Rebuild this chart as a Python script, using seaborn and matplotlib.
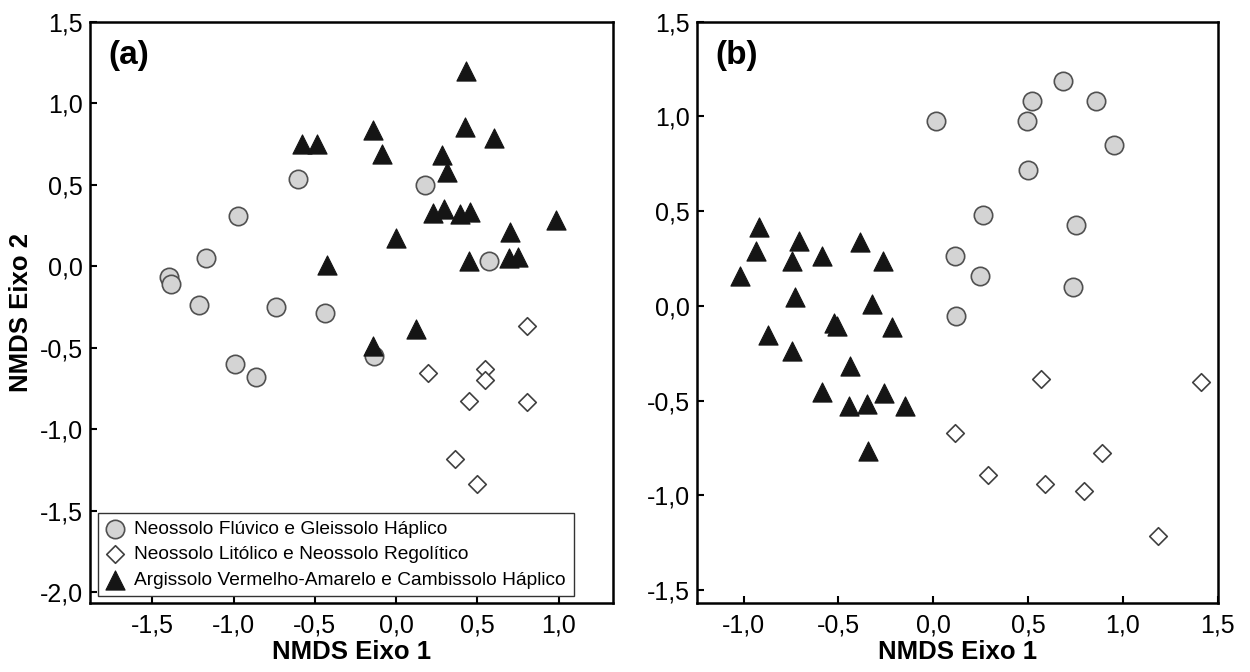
import matplotlib
matplotlib.use("Agg")
import matplotlib.pyplot as plt
import pandas as pd
import seaborn as sns

# ---------------- data ----------------
groups = ["Neossolo Flúvico e Gleissolo Háplico",
          "Neossolo Litólico e Neossolo Regolítico",
          "Argissolo Vermelho-Amarelo e Cambissolo Háplico"]

# panel (a)
a_circ_x = [-0.602, -0.972, -1.169, -1.396, -1.384, -1.214, -0.738, -0.436, -0.993, -0.862, -0.135, 0.178, 0.569]
a_circ_y = [0.534, 0.309, 0.047, -0.069, -0.110, -0.240, -0.250, -0.285, -0.602, -0.680, -0.551, 0.497, 0.033]
a_diam_x = [0.806, 0.197, 0.550, 0.550, 0.451, 0.806, 0.363, 0.498]
a_diam_y = [-0.367, -0.653, -0.633, -0.700, -0.827, -0.833, -1.184, -1.337]
a_tri_x = [-0.579, -0.487, -0.426, 0.125, -0.139, 0.430, -0.139, 0.424, 0.604, -0.088, 0.281,
           0.311, 0.229, 0.297, 0.393, 0.455, 0.987, 0.000, 0.700, 0.450, 0.694, 0.751]
a_tri_y = [0.752, 0.748, 0.006, -0.388, -0.490, 1.198, 0.838, 0.851, 0.783, 0.687, 0.681,
           0.579, 0.323, 0.348, 0.319, 0.333, 0.282, 0.170, 0.207, 0.033, 0.047, 0.057]

# panel (b)
b_circ_x = [0.012, 0.682, 0.519, 0.857, 0.496, 0.953, 0.501, 0.260, 0.753, 0.114, 0.245, 0.738, 0.120]
b_circ_y = [0.975, 1.189, 1.081, 1.081, 0.975, 0.847, 0.718, 0.481, 0.428, 0.261, 0.158, 0.098, -0.052]
b_diam_x = [0.116, 0.566, 1.414, 0.288, 0.588, 0.795, 0.889, 1.185]
b_diam_y = [-0.671, -0.385, -0.402, -0.891, -0.941, -0.979, -0.776, -1.214]
b_tri_x = [-0.918, -0.935, -1.020, -0.707, -0.747, -0.589, -0.387, -0.264, -0.730, -0.322, -0.869,
           -0.521, -0.508, -0.220, -0.747, -0.438, -0.586, -0.444, -0.349, -0.259, -0.148, -0.342]
b_tri_y = [0.414, 0.291, 0.160, 0.344, 0.238, 0.265, 0.335, 0.238, 0.046, 0.010, -0.155,
           -0.088, -0.106, -0.111, -0.238, -0.318, -0.455, -0.526, -0.517, -0.459, -0.526, -0.764]

a_xticks = [-1.5, -1.0, -0.5, 0.0, 0.5, 1.0]
a_yticks = [1.5, 1.0, 0.5, 0.0, -0.5, -1.0, -1.5, -2.0]
b_xticks = [-1.0, -0.5, 0.0, 0.5, 1.0, 1.5]
b_yticks = [1.5, 1.0, 0.5, 0.0, -0.5, -1.0, -1.5]


def frame(cx, cy, dx, dy, tx, ty):
    return pd.concat([
        pd.DataFrame({"x": cx, "y": cy, "grupo": groups[0]}),
        pd.DataFrame({"x": dx, "y": dy, "grupo": groups[1]}),
        pd.DataFrame({"x": tx, "y": ty, "grupo": groups[2]}),
    ], ignore_index=True)


df_a = frame(a_circ_x, a_circ_y, a_diam_x, a_diam_y, a_tri_x, a_tri_y)
df_b = frame(b_circ_x, b_circ_y, b_diam_x, b_diam_y, b_tri_x, b_tri_y)

styles = {
    groups[0]: dict(marker="o", s=175, color="#d4d4d4", edgecolor="#505050", linewidth=1.2),
    groups[1]: dict(marker="D", s=80, color="white", edgecolor="#404040", linewidth=1.2),
    groups[2]: dict(marker="^", s=190, color="#151515", edgecolor="#151515", linewidth=0.8),
}

sns.set_style("ticks")
plt.rcParams["font.family"] = ["Liberation Sans", "DejaVu Sans"]
plt.rcParams["text.color"] = "black"
plt.rcParams["axes.labelcolor"] = "black"
plt.rcParams["xtick.color"] = "black"
plt.rcParams["ytick.color"] = "black"

fig = plt.figure(figsize=(12.5, 6.72), dpi=100)
ax_a = fig.add_axes([0.072, 0.102, 0.4184, 0.8658])
ax_b = fig.add_axes([0.5576, 0.102, 0.4168, 0.8658])


def fmt(v):
    return f"{v:.1f}".replace(".", ",")


def draw(ax, df, xlim, ylim, xt, yt, tag):
    for g in groups:
        sub = df[df["grupo"] == g]
        sns.scatterplot(data=sub, x="x", y="y", ax=ax, label=g, legend=False, **styles[g])
    ax.set_xlim(*xlim)
    ax.set_ylim(*ylim)
    ax.set_xticks(xt)
    ax.set_xticklabels([fmt(v) for v in xt])
    ax.set_yticks(yt)
    ax.set_yticklabels([fmt(v) for v in yt])
    ax.tick_params(direction="in", length=5, width=1.5, labelsize=18, colors="black")
    ax.tick_params(axis="x", pad=7)
    ax.tick_params(axis="y", pad=5)
    for sp in ax.spines.values():
        sp.set_linewidth(1.8)
        sp.set_color("black")
        sp.set_visible(True)
    ax.set_xlabel("NMDS Eixo 1", fontsize=18.5, fontweight="bold", labelpad=2, color="black")
    ax.set_ylabel("")
    ax.text(0.036, 0.942, tag, transform=ax.transAxes, fontsize=24,
            fontweight="bold", ha="left", va="center", color="black")


draw(ax_a, df_a, (-1.883, 1.335), (-2.07, 1.5), a_xticks, a_yticks, "(a)")
draw(ax_b, df_b, (-1.246, 1.502), (-1.57, 1.5), b_xticks, b_yticks, "(b)")

ax_a.set_ylabel("NMDS Eixo 2", fontsize=18.5, fontweight="bold", labelpad=5, color="black")

leg = ax_a.legend(loc="lower left", bbox_to_anchor=(0.015, 0.012), borderaxespad=0,
                  fontsize=13.8, frameon=True, fancybox=False, handlelength=1.0,
                  handletextpad=0.5, borderpad=0.4, labelspacing=0.42, markerscale=1.0)
leg.get_frame().set_edgecolor("#333333")
leg.get_frame().set_linewidth(1.0)
leg.get_frame().set_alpha(1)
for t in leg.get_texts():
    t.set_color("black")
if ax_b.get_legend() is not None:
    ax_b.get_legend().remove()

fig.savefig("out.png", dpi=100)
